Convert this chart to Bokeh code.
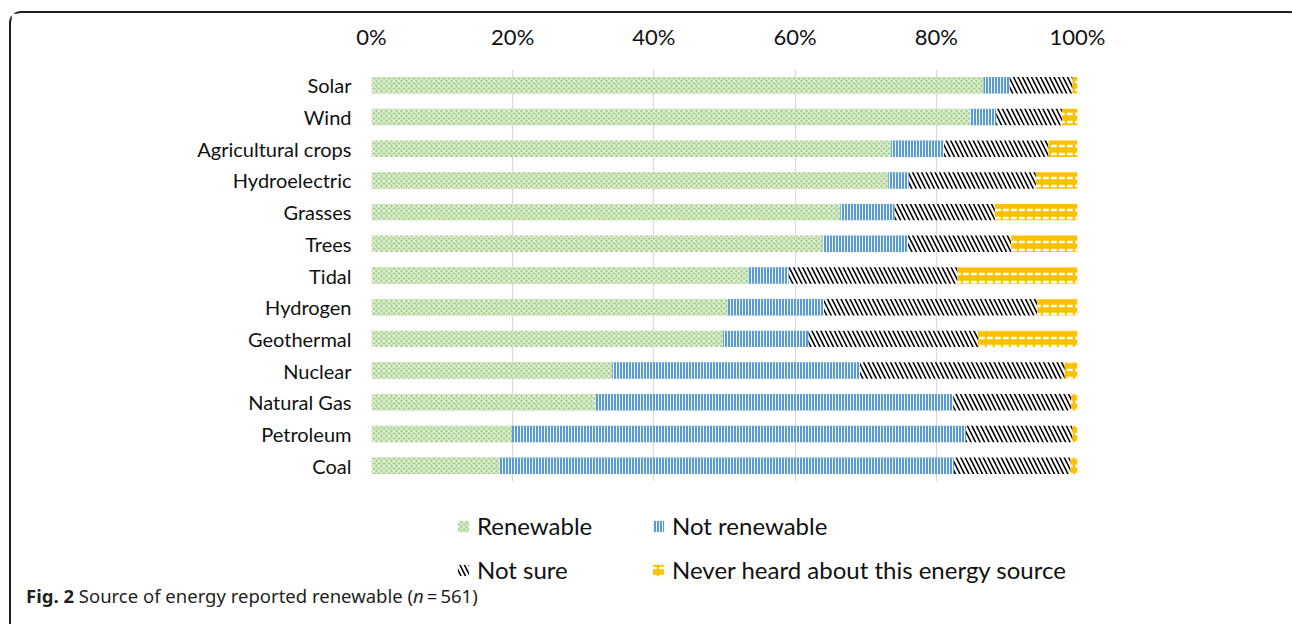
import numpy as np
from bokeh.plotting import figure
from bokeh.models import (ColumnDataSource, FactorRange, Range1d, FixedTicker,
                          PrintfTickFormatter, Legend, LegendItem, Div)
from bokeh.layouts import column
from bokeh.embed import file_html
from bokeh.resources import INLINE

categories = ["Solar", "Wind", "Agricultural crops", "Hydroelectric", "Grasses", "Trees",
              "Tidal", "Hydrogen", "Geothermal", "Nuclear", "Natural Gas", "Petroleum", "Coal"]
renewable = [86.7, 84.8, 73.6, 73.2, 66.4, 63.9, 53.4, 50.4, 49.8, 34.1, 31.7, 19.9, 18.1]
not_renewable = [3.7, 3.7, 7.5, 2.9, 7.7, 12.1, 5.7, 13.7, 12.1, 35.1, 50.7, 64.3, 64.4]
not_sure = [8.9, 9.3, 14.8, 18.0, 14.2, 14.6, 23.9, 30.2, 24.0, 29.0, 16.7, 15.1, 16.5]
never_heard = [0.7, 2.2, 4.1, 5.9, 11.7, 9.4, 17.0, 5.7, 14.1, 1.8, 0.9, 0.7, 1.0]
series_names = ["Renewable", "Not renewable", "Not sure", "Never heard about this energy source"]
tick_values = [0, 20, 40, 60, 80, 100]
caption_html = "<b>Fig. 2</b> Source of energy reported renewable (<i>n</i>&#8201;=&#8201;561)"

series = [renewable, not_renewable, not_sure, never_heard]
data = {"cat": categories}
cum = np.zeros(len(categories))
for i, s in enumerate(series):
    data[f"l{i}"] = cum.copy()
    cum = cum + np.array(s)
    data[f"r{i}"] = cum.copy()
source = ColumnDataSource(data)

# page geometry (absolute page pixels)
OX, OY = 11, 13            # where the figure canvas starts (inside the border)
CHART_BOTTOM = 490
LEG_BOTTOM = 585
PW = 1292 - OX
PH = CHART_BOTTOM - OY
FL, FR, FT, FB = 371 - OX, 1077 - OX, 69 - OY, 481 - OY

p = figure(width=PW, height=PH, output_backend="svg", toolbar_location=None,
           y_range=FactorRange(*reversed(categories)), x_range=Range1d(0, 100),
           x_axis_location="above",
           min_border_left=FL, min_border_right=PW - FR,
           min_border_top=FT, min_border_bottom=PH - FB)
p.frame_width = FR - FL
p.frame_height = FB - FT
p.outline_line_color = None
p.background_fill_color = "white"
p.border_fill_color = "white"

styles = [
    dict(fill_color="#A9D18E", hatch_pattern="diagonal_cross", hatch_color="white",
         hatch_scale=5, hatch_weight=1.2, hatch_alpha=0.7),
    dict(fill_color="#5B9BD5", hatch_pattern="vertical_line", hatch_color="white",
         hatch_scale=3, hatch_weight=1, hatch_alpha=0.9),
    dict(fill_color="white", hatch_pattern="left_diagonal_line", hatch_color="black",
         hatch_scale=9, hatch_weight=1.6),
    dict(fill_color="#FFC000", hatch_pattern="horizontal_dash", hatch_color="white",
         hatch_scale=8, hatch_weight=2.5),
]

for i, st in enumerate(styles):
    p.hbar(y="cat", left=f"l{i}", right=f"r{i}", height=0.52, source=source,
           line_color=None, **st)

FONT = "Lato"
xa = p.xaxis[0]
xa.ticker = FixedTicker(ticks=tick_values)
xa.formatter = PrintfTickFormatter(format="%d%%")
xa.axis_line_color = None
xa.major_tick_line_color = None
xa.minor_tick_line_color = None
xa.major_tick_out = 0
xa.major_label_standoff = 20
xa.major_label_text_font = FONT
xa.major_label_text_font_size = "22px"
xa.major_label_text_color = "#111111"

ya = p.yaxis[0]
ya.axis_line_color = None
ya.major_tick_line_color = None
ya.major_tick_out = 0
ya.major_label_standoff = 20
ya.major_label_text_font = FONT
ya.major_label_text_font_size = "20px"
ya.major_label_text_color = "#111111"

p.xgrid.grid_line_color = "#D9D9D9"
p.xgrid.grid_line_width = 1.2
p.ygrid.grid_line_color = None

# legend figure: its frame is aligned with the chart frame by the column layout
LH = LEG_BOTTOM - CHART_BOTTOM
pl = figure(width=PW, height=LH, output_backend="svg", toolbar_location=None,
            x_range=Range1d(0, 1), y_range=Range1d(0, 1),
            x_axis_type=None, y_axis_type=None, min_border=0)
pl.outline_line_color = None
pl.grid.visible = False
pl.border_fill_color = "white"
pl.background_fill_color = "white"
# one swatch sample per series, placed far outside the visible ranges (legend glyphs only)
leg_src = ColumnDataSource(dict(y=[100], l=[100], r=[101]))
leg_renderers = [pl.hbar(y="y", left="l", right="r", height=0.5, source=leg_src,
                         line_color=None, **st) for st in styles]

legend = Legend(items=[LegendItem(label=series_names[i], renderers=[leg_renderers[i]]) for i in range(4)],
                orientation="horizontal", ncols=2,
                location=(456 - 371, LEG_BOTTOM - 584), padding=0, margin=0,
                border_line_color=None, background_fill_alpha=0,
                glyph_width=14, glyph_height=14, label_height=29, label_width=159,
                spacing=15, label_standoff=7, label_text_font=FONT,
                label_text_font_size="24px", label_text_color="#111111")
pl.add_layout(legend, "center")

cap = Div(text=caption_html, width=PW, height=624 - LEG_BOTTOM,
          styles={"font-family": "'Noto Sans'", "font-size": "18.5px", "color": "#231f20",
                  "line-height": "12px", "padding-left": "10px", "white-space": "nowrap"})

root = column(p, pl, cap, spacing=0,
              styles={"margin-left": "9px", "margin-top": "11px",
                      "border-left": "2px solid #231f20", "border-top": "2px solid #231f20",
                      "border-top-left-radius": "12px", "border-top-right-radius": "12px"})

open("out.html", "w").write(file_html(root, INLINE))
